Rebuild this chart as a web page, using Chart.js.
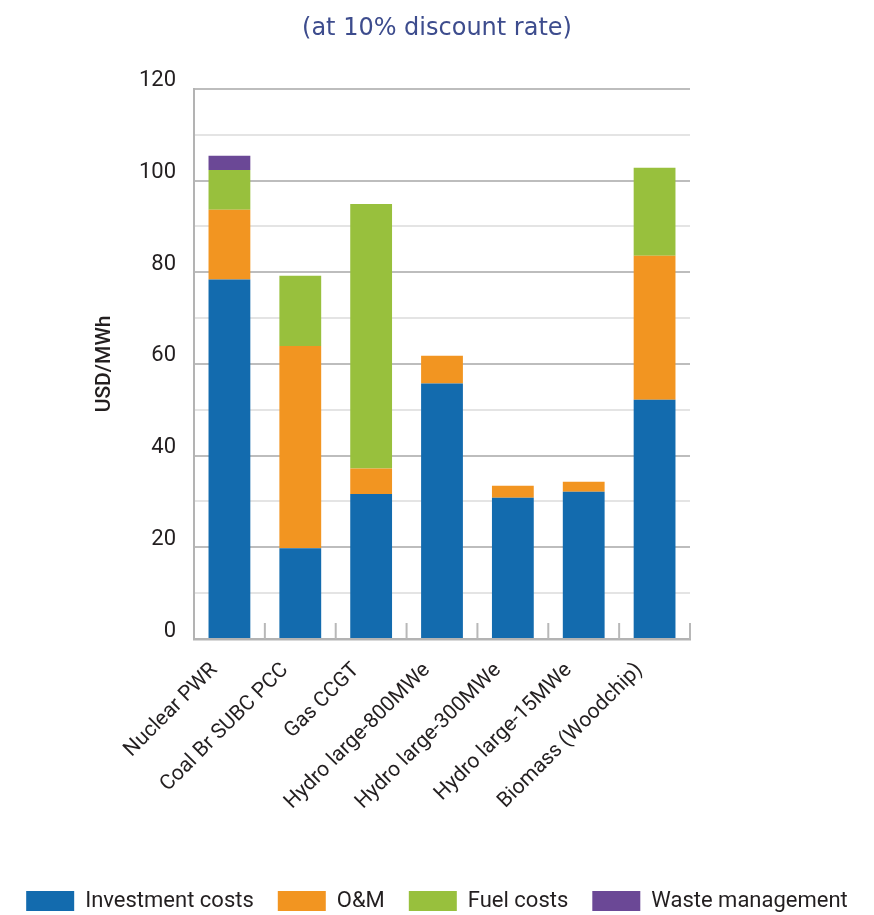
<!DOCTYPE html>
<html>
<head>
<meta charset="utf-8">
<script src="https://cdn.jsdelivr.net/npm/chart.js@4"></script>
<style>
  body { margin: 0; background: #fff; }
  #wrap { width: 874px; height: 915px; }
</style>
</head>
<body>
<div id="wrap"><canvas id="myChart" width="874" height="915"></canvas></div>
<script>
// data (USD/MWh)
const categories = ['Nuclear PWR', 'Coal Br SUBC PCC', 'Gas CCGT', 'Hydro large-800MWe',
  'Hydro large-300MWe', 'Hydro large-15MWe', 'Biomass (Woodchip)'];
const investment = [78.4, 19.8, 31.6, 55.7, 30.8, 32.1, 52.2];
const om = [15.2, 44.1, 5.6, 6.1, 2.6, 2.2, 31.4];
const fuel = [8.7, 15.3, 57.7, 0, 0, 0, 19.2];
const waste = [3.1, 0, 0, 0, 0, 0, 0];
const yTicks = [0, 20, 40, 60, 80, 100, 120];

const inkColor = '#231f20';

// small up-pointing marks between the categories on the x axis
const catMarks = {
  id: 'catMarks',
  afterDraw(chart) {
    const x = chart.scales.x;
    const c = chart.ctx;
    const bottom = chart.chartArea.bottom;
    c.save();
    c.strokeStyle = '#b8b8b8';
    c.lineWidth = 2;
    for (let i = 0; i < categories.length; i++) {
      let px = i < categories.length - 1
        ? (x.getPixelForValue(i) + x.getPixelForValue(i + 1)) / 2
        : chart.chartArea.right;
      c.beginPath();
      c.moveTo(px, bottom);
      c.lineTo(px, bottom - 16);
      c.stroke();
    }
    c.restore();
  }
};

const ctx = document.getElementById('myChart');

new Chart(ctx, {
  type: 'bar',
  data: {
    labels: categories,
    datasets: [
      { label: 'Investment costs', data: investment, backgroundColor: '#136bae' },
      { label: 'O&M', data: om, backgroundColor: '#f29521' },
      { label: 'Fuel costs', data: fuel, backgroundColor: '#98c03d' },
      { label: 'Waste management', data: waste, backgroundColor: '#6b4896' }
    ]
  },
  options: {
    responsive: false,
    animation: false,
    layout: { padding: { left: 0, bottom: -7 } },
    datasets: {
      bar: { categoryPercentage: 1, barPercentage: 0.59, borderWidth: 0 }
    },
    scales: {
      x: {
        stacked: true,
        grid: { display: false },
        border: { color: '#b3b3b3', width: 2.5 },
        ticks: {
          minRotation: 45, maxRotation: 45,
          color: inkColor,
          font: { family: 'Roboto', size: 21 },
          padding: 11,
          labelOffset: -15
        },
        afterFit: (s) => { s.height = 227; }
      },
      y: {
        stacked: true,
        min: 0, max: 120,
        border: { color: '#b3b3b3', width: 2 },
        grid: {
          drawTicks: false,
          color: (c) => (c.tick && c.tick.value % 20 === 0) ? '#bdbdbd' : '#e4e4e4',
          lineWidth: 2
        },
        ticks: {
          stepSize: 10,
          padding: 18,
          labelOffset: -8,
          color: inkColor,
          font: { family: 'Roboto', size: 22 },
          callback: (v) => yTicks.includes(v) ? v : ''
        },
        title: {
          display: true,
          text: 'USD/MWh',
          color: inkColor,
          font: { family: 'Roboto', size: 21, weight: '500' },
          padding: { top: 92, bottom: 0 }
        },
        afterFit: (s) => { s.width = 194; }
      },
      right: {
        position: 'right',
        display: true,
        grid: { display: false },
        border: { display: false },
        ticks: { display: false },
        afterFit: (s) => { s.width = 184; }
      }
    },
    plugins: {
      title: {
        display: true,
        text: '(at 10% discount rate)',
        color: '#3d4c8d',
        font: { family: 'DejaVu Sans', size: 24, weight: 'normal' },
        padding: { top: 14, bottom: 46 }
      },
      legend: {
        position: 'bottom',
        labels: {
          boxWidth: 48,
          boxHeight: 20,
          padding: 24,
          color: inkColor,
          font: { family: 'Roboto', size: 22 }
        }
      },
      tooltip: { enabled: false }
    }
  },
  plugins: [catMarks]
});
</script>
</body>
</html>
